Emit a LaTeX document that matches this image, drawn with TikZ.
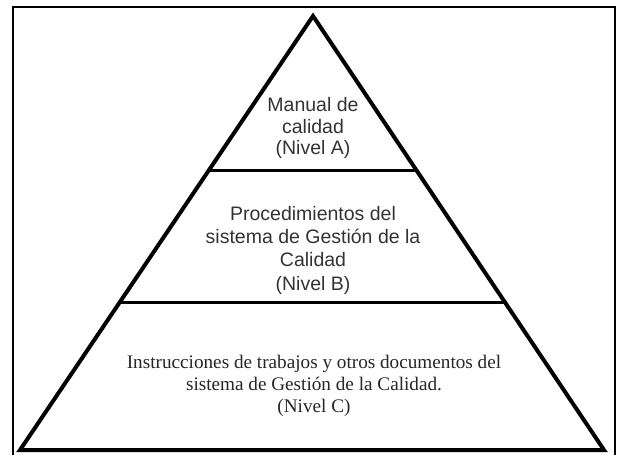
\documentclass[tikz,border=0pt]{standalone}
\usepackage{fontspec}
\setmainfont{Liberation Serif}
\setsansfont{Liberation Sans}
\usetikzlibrary{positioning,calc}

\begin{document}
\begin{tikzpicture}[x=1pt, y=-1pt, line join=miter,
    edgeline/.style={line width=4pt},
    levelline/.style={line width=3pt},
    sanslabel/.style={align=center, text=black!80, inner sep=0pt,
      font=\sffamily\fontsize{19.5}{21.5}\selectfont},
    seriflabel/.style={align=center, text=black!85, inner sep=0pt,
      font=\rmfamily\fontsize{19.2}{21.8}\selectfont}]
    % Frame
    \useasboundingbox (0,0) rectangle (617,455);
    \draw[line width=2pt] (13,455) -- (13,7) -- (615,7) -- (615,455);

    % Pyramid corners
    \coordinate (apex) at (313,16);
    \coordinate (bl) at (20,450);
    \coordinate (br) at (604,450);

    % Level dividers
    \coordinate (aL) at ($(apex)!0.357!(bl)$);
    \coordinate (aR) at ($(apex)!0.357!(br)$);
    \coordinate (bL) at ($(apex)!0.661!(bl)$);
    \coordinate (bR) at ($(apex)!0.661!(br)$);

    \draw[edgeline] (apex) -- (br) -- (bl) -- cycle;
    \draw[levelline] (aL) -- (aR);
    \draw[levelline] (bL) -- (bR);

    % Labels
    \node[sanslabel] (nivelA) at (313,128) {Manual de\\calidad\\(Nivel A)};
    \node[sanslabel, font=\sffamily\fontsize{19.5}{23.3}\selectfont] (nivelB) at (313,250)
      {Procedimientos del\\sistema de Gesti\'on de la\\Calidad\\(Nivel B)};
    \node[seriflabel] (nivelC) at (314,386)
      {Instrucciones de trabajos y otros documentos del\\sistema de Gesti\'on de la Calidad.\\(Nivel C)};
\end{tikzpicture}
\end{document}
